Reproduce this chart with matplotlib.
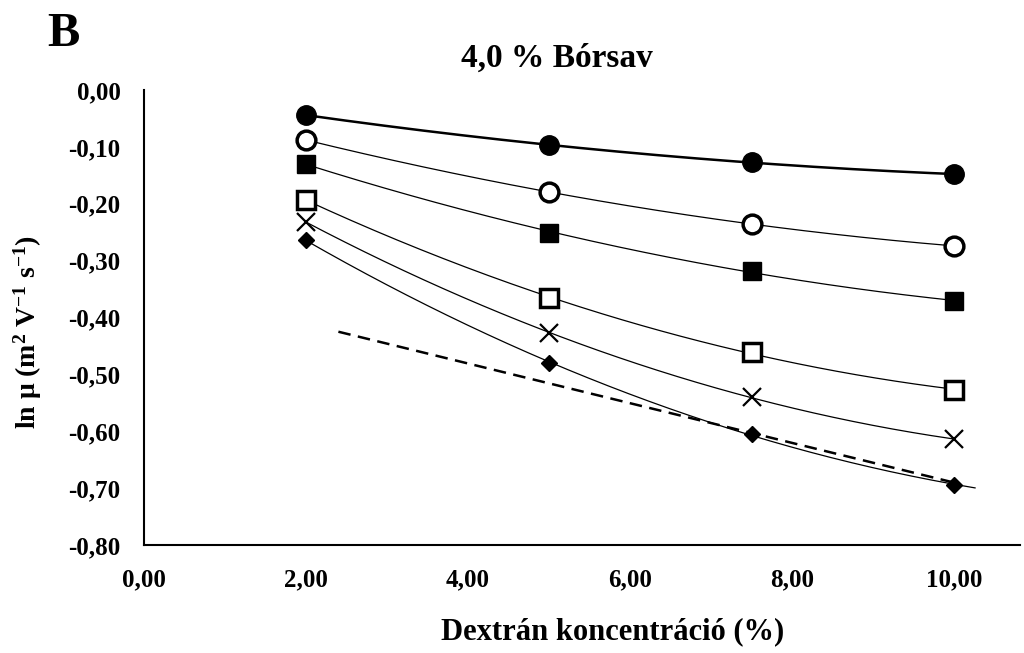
import numpy as np
import matplotlib
matplotlib.use("Agg")
import matplotlib.pyplot as plt

plt.rcParams['font.family'] = ['Liberation Serif', 'DejaVu Serif']
plt.rcParams['font.weight'] = 'bold'
plt.rcParams['mathtext.fontset'] = 'custom'
plt.rcParams['mathtext.rm'] = 'Liberation Serif'
plt.rcParams['mathtext.bf'] = 'Liberation Serif:bold'
plt.rcParams['mathtext.default'] = 'rm'

x = [2, 5, 7.5, 10]
s_filled_circle = [-0.044, -0.097, -0.127, -0.148]
s_open_circle = [-0.088, -0.179, -0.236, -0.274]
s_filled_square = [-0.130, -0.251, -0.318, -0.371]
s_open_square = [-0.193, -0.366, -0.461, -0.527]
s_cross = [-0.232, -0.427, -0.540, -0.614]
s_diamond = [-0.264, -0.480, -0.605, -0.694]
dash_x = [2.4, 10.05]
dash_y = [-0.425, -0.692]
xticks = [0, 2, 4, 6, 8, 10]
yticks = [0.0, -0.1, -0.2, -0.3, -0.4, -0.5, -0.6, -0.7, -0.8]

W, H = 1024, 653
fig = plt.figure(figsize=(W / 100, H / 100), dpi=100)
ax = fig.add_axes([144 / W, 1 - 545 / H, (1020 - 144) / W, (545 - 90) / H])

series = [
    (s_filled_circle, dict(marker='o', ms=14, mfc='black', mec='black'), 1.8, 10.0),
    (s_open_circle, dict(marker='o', ms=13.5, mfc='white', mec='black', mew=2.5), 0.9, 10.0),
    (s_filled_square, dict(marker='s', ms=13, mfc='black', mec='black'), 0.9, 10.0),
    (s_open_square, dict(marker='s', ms=13, mfc='white', mec='black', mew=2.5), 0.9, 10.0),
    (s_cross, dict(marker='x', ms=12.5, mfc='black', mec='black', mew=1.6), 0.9, 10.0),
    (s_diamond, dict(marker='D', ms=8, mfc='black', mec='black'), 0.9, 10.26),
]

xa = np.array(x)
for ys, mk, lw, xend in series:
    c = np.polyfit(xa, np.array(ys), 2)
    xs = np.linspace(2, xend, 200)
    ax.plot(xs, np.polyval(c, xs), color='black', lw=lw, zorder=2)
for ys, mk, lw, xend in series:
    ax.plot(x, ys, ls='none', zorder=3, **mk)

ax.plot(dash_x, dash_y, color='black', ls=(0, (5, 3)), lw=1.8, zorder=2)

ax.set_xlim(0, (1020 - 144) / 81.0)
ax.set_ylim(-0.8, 0.0)
ax.set_xticks(xticks)
ax.set_xticklabels([f"{v:.2f}".replace('.', ',') for v in xticks])
ax.set_yticks(yticks)
ax.set_yticklabels(["0,00" if v == 0 else f"{v:.2f}".replace('.', ',') for v in yticks])
ax.tick_params(length=0, labelsize=18, pad=17)
for lab in ax.get_xticklabels() + ax.get_yticklabels():
    lab.set_fontweight('bold')
ax.spines['top'].set_visible(False)
ax.spines['right'].set_visible(False)
ax.spines['left'].set_linewidth(1.5)
ax.spines['bottom'].set_linewidth(1.5)

fig.text(557 / W, 1 - 58 / H, "4,0 % Bórsav", ha='center', va='center', fontsize=24, fontweight='bold')
fig.text(63 / W, 1 - 34 / H, "B", ha='center', va='center', fontsize=35, fontweight='bold')
fig.text(613 / W, 1 - 632 / H, "Dextrán koncentráció (%)", ha='center', va='center', fontsize=22, fontweight='bold')
fig.text(28 / W, 1 - 332 / H, "ln μ (m$^{2}$ V$^{-1}$ s$^{-1}$)", rotation=90,
         ha='center', va='center', fontsize=20, fontweight='bold')

fig.savefig("out.png", dpi=100)
